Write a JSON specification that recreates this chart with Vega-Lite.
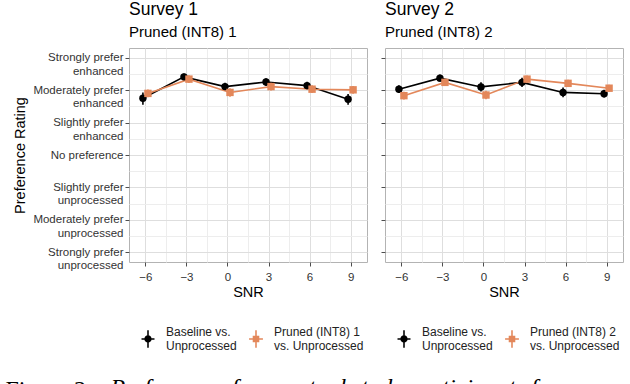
{
  "$schema": "https://vega.github.io/schema/vega-lite/v6.json",
  "background": "white",
  "padding": {"left": 5, "top": 0, "right": 5, "bottom": 5},
  "datasets": {
    "s1": [
      {"snr": -6, "series": "Baseline", "mean": 1.75, "lo": 1.55, "hi": 1.93},
      {"snr": -3, "series": "Baseline", "mean": 2.41, "lo": 2.31, "hi": 2.51},
      {"snr": 0, "series": "Baseline", "mean": 2.11, "lo": 1.99, "hi": 2.23},
      {"snr": 3, "series": "Baseline", "mean": 2.25, "lo": 2.13, "hi": 2.37},
      {"snr": 6, "series": "Baseline", "mean": 2.14, "lo": 2.02, "hi": 2.26},
      {"snr": 9, "series": "Baseline", "mean": 1.72, "lo": 1.55, "hi": 1.88},
      {"snr": -6, "series": "Pruned", "mean": 1.9, "lo": 1.78, "hi": 2.02},
      {"snr": -3, "series": "Pruned", "mean": 2.34, "lo": 2.22, "hi": 2.46},
      {"snr": 0, "series": "Pruned", "mean": 1.93, "lo": 1.8, "hi": 2.06},
      {"snr": 3, "series": "Pruned", "mean": 2.11, "lo": 1.99, "hi": 2.23},
      {"snr": 6, "series": "Pruned", "mean": 2.03, "lo": 1.91, "hi": 2.15},
      {"snr": 9, "series": "Pruned", "mean": 2.01, "lo": 1.89, "hi": 2.13}
    ],
    "s2": [
      {"snr": -6, "series": "Baseline", "mean": 2.03, "lo": 1.91, "hi": 2.15},
      {"snr": -3, "series": "Baseline", "mean": 2.37, "lo": 2.26, "hi": 2.48},
      {"snr": 0, "series": "Baseline", "mean": 2.1, "lo": 1.96, "hi": 2.24},
      {"snr": 3, "series": "Baseline", "mean": 2.24, "lo": 2.1, "hi": 2.38},
      {"snr": 6, "series": "Baseline", "mean": 1.93, "lo": 1.78, "hi": 2.08},
      {"snr": 9, "series": "Baseline", "mean": 1.89, "lo": 1.77, "hi": 2.01},
      {"snr": -6, "series": "Pruned", "mean": 1.83, "lo": 1.71, "hi": 1.95},
      {"snr": -3, "series": "Pruned", "mean": 2.24, "lo": 2.13, "hi": 2.35},
      {"snr": 0, "series": "Pruned", "mean": 1.85, "lo": 1.72, "hi": 1.98},
      {"snr": 3, "series": "Pruned", "mean": 2.34, "lo": 2.23, "hi": 2.45},
      {"snr": 6, "series": "Pruned", "mean": 2.21, "lo": 2.1, "hi": 2.32},
      {"snr": 9, "series": "Pruned", "mean": 2.06, "lo": 1.95, "hi": 2.17}
    ]
  },
  "title": {
    "text": "Preference of perceptual study participants for en",
    "orient": "bottom",
    "anchor": "start",
    "frame": "bounds",
    "font": "Liberation Serif",
    "fontSize": 24,
    "fontStyle": "italic",
    "fontWeight": "normal",
    "color": "black",
    "offset": 0,
    "dx": 105,
    "dy": -26
  },
  "vconcat": [
    {
      "title": {
        "text": "Figure 2:",
        "orient": "bottom",
        "anchor": "start",
        "frame": "bounds",
        "font": "Liberation Serif",
        "fontSize": 24,
        "fontStyle": "normal",
        "fontWeight": "normal",
        "color": "black",
        "offset": 15,
        "dx": -7
      },
      "spacing": 5,
      "resolve": {"scale": {"color": "independent", "shape": "independent"}, "legend": {"color": "independent", "shape": "independent"}},
      "hconcat": [
        {
          "width": 238,
          "height": 214,
          "title": {"text": "Survey 1", "subtitle": "Pruned (INT8) 1"},
          "data": {"name": "s1"},
          "encoding": {
            "x": {"field": "snr", "type": "quantitative", "scale": {"domain": [-7.2, 10.2], "nice": false, "zero": false},
              "axis": {"title": "SNR", "values": [-6, -4.5, -3, -1.5, 0, 1.5, 3, 4.5, 6, 7.5, 9],
                "labelExpr": "datum.value % 3 == 0 ? datum.label : ''",
                "tickColor": {"condition": {"test": "datum.value % 3 == 0", "value": "#4d4d4d"}, "value": "transparent"},
                "gridColor": {"condition": {"test": "datum.value % 3 == 0", "value": "#dedede"}, "value": "#ededed"}}},
            "y": {"field": "mean", "type": "quantitative", "scale": {"domain": [-3.3, 3.3], "nice": false, "zero": false},
              "axis": {"title": "Preference Rating", "values": [-3, -2.5, -2, -1.5, -1, -0.5, 0, 0.5, 1, 1.5, 2, 2.5, 3],
                "labelExpr": "datum.value == 3 ? ['Strongly prefer','enhanced'] : datum.value == 2 ? ['Moderately prefer','enhanced'] : datum.value == 1 ? ['Slightly prefer','enhanced'] : datum.value == 0 ? 'No preference' : datum.value == -1 ? ['Slightly prefer','unprocessed'] : datum.value == -2 ? ['Moderately prefer','unprocessed'] : datum.value == -3 ? ['Strongly prefer','unprocessed'] : ''",
                "tickColor": {"condition": {"test": "datum.value % 1 == 0", "value": "#4d4d4d"}, "value": "transparent"},
                "gridColor": {"condition": {"test": "datum.value % 1 == 0", "value": "#dedede"}, "value": "#ededed"}}},
            "color": {"field": "series", "type": "nominal", "scale": {"domain": ["Baseline", "Pruned"], "range": ["#000000", "#E3875A"]},
              "legend": {"title": null, "orient": "bottom", "direction": "horizontal",
                "labelExpr": "datum.label == 'Baseline' ? ['Baseline vs.','Unprocessed'] : ['Pruned (INT8) 1','vs. Unprocessed']",
                "encode": {"labels": {"update": {"dy": {"value": -7}}}, "symbols": {"update": {"shape": {"signal": "datum.value == 'Baseline' ? 'M-0.09,-1H0.09V1H-0.09Z M-0.75,-0.09H0.75V0.09H-0.75Z M0.42,0A0.42,0.42 0 1,1 -0.42,0A0.42,0.42 0 1,1 0.42,0Z' : 'M-0.09,-1H0.09V1H-0.09Z M-0.8,-0.09H0.8V0.09H-0.8Z M-0.38,-0.38H0.38V0.38H-0.38Z'"}, "opacity": {"value": 1}}}}}}
          },
          "layer": [
            {"transform": [{"filter": "datum.series == 'Baseline'"}], "mark": {"type": "rule", "strokeWidth": 1.6, "xOffset": -2.5}, "encoding": {"y": {"field": "lo", "type": "quantitative"}, "y2": {"field": "hi"}}},
            {"transform": [{"filter": "datum.series == 'Baseline'"}], "mark": {"type": "line", "strokeWidth": 1.6, "xOffset": -2.5}},
            {"transform": [{"filter": "datum.series == 'Pruned'"}], "mark": {"type": "rule", "strokeWidth": 1.6, "xOffset": 2.5}, "encoding": {"y": {"field": "lo", "type": "quantitative"}, "y2": {"field": "hi"}}},
            {"transform": [{"filter": "datum.series == 'Pruned'"}], "mark": {"type": "line", "strokeWidth": 1.6, "xOffset": 2.5}},
            {"transform": [{"filter": "datum.series == 'Baseline'"}], "mark": {"type": "point", "filled": true, "opacity": 1, "size": 55, "shape": "circle", "xOffset": -2.5}},
            {"transform": [{"filter": "datum.series == 'Pruned'"}], "mark": {"type": "point", "filled": true, "opacity": 1, "size": 55, "shape": "square", "xOffset": 2.5}}
          ]
        },
        {
          "width": 238,
          "height": 214,
          "title": {"text": "Survey 2", "subtitle": "Pruned (INT8) 2"},
          "data": {"name": "s2"},
          "encoding": {
            "x": {"field": "snr", "type": "quantitative", "scale": {"domain": [-7.2, 10.2], "nice": false, "zero": false},
              "axis": {"title": "SNR", "values": [-6, -4.5, -3, -1.5, 0, 1.5, 3, 4.5, 6, 7.5, 9],
                "labelExpr": "datum.value % 3 == 0 ? datum.label : ''",
                "tickColor": {"condition": {"test": "datum.value % 3 == 0", "value": "#4d4d4d"}, "value": "transparent"},
                "gridColor": {"condition": {"test": "datum.value % 3 == 0", "value": "#dedede"}, "value": "#ededed"}}},
            "y": {"field": "mean", "type": "quantitative", "scale": {"domain": [-3.3, 3.3], "nice": false, "zero": false},
              "axis": {"title": null, "values": [-3, -2.5, -2, -1.5, -1, -0.5, 0, 0.5, 1, 1.5, 2, 2.5, 3],
                "labels": false,
                "tickColor": {"condition": {"test": "datum.value % 1 == 0", "value": "#4d4d4d"}, "value": "transparent"},
                "gridColor": {"condition": {"test": "datum.value % 1 == 0", "value": "#dedede"}, "value": "#ededed"}}},
            "color": {"field": "series", "type": "nominal", "scale": {"domain": ["Baseline", "Pruned"], "range": ["#000000", "#E3875A"]},
              "legend": {"title": null, "orient": "bottom", "direction": "horizontal",
                "labelExpr": "datum.label == 'Baseline' ? ['Baseline vs.','Unprocessed'] : ['Pruned (INT8) 2','vs. Unprocessed']",
                "encode": {"labels": {"update": {"dy": {"value": -7}}}, "symbols": {"update": {"shape": {"signal": "datum.value == 'Baseline' ? 'M-0.09,-1H0.09V1H-0.09Z M-0.75,-0.09H0.75V0.09H-0.75Z M0.42,0A0.42,0.42 0 1,1 -0.42,0A0.42,0.42 0 1,1 0.42,0Z' : 'M-0.09,-1H0.09V1H-0.09Z M-0.8,-0.09H0.8V0.09H-0.8Z M-0.38,-0.38H0.38V0.38H-0.38Z'"}, "opacity": {"value": 1}}}}}}
          },
          "layer": [
            {"transform": [{"filter": "datum.series == 'Baseline'"}], "mark": {"type": "rule", "strokeWidth": 1.6, "xOffset": -2.5}, "encoding": {"y": {"field": "lo", "type": "quantitative"}, "y2": {"field": "hi"}}},
            {"transform": [{"filter": "datum.series == 'Baseline'"}], "mark": {"type": "line", "strokeWidth": 1.6, "xOffset": -2.5}},
            {"transform": [{"filter": "datum.series == 'Pruned'"}], "mark": {"type": "rule", "strokeWidth": 1.6, "xOffset": 2.5}, "encoding": {"y": {"field": "lo", "type": "quantitative"}, "y2": {"field": "hi"}}},
            {"transform": [{"filter": "datum.series == 'Pruned'"}], "mark": {"type": "line", "strokeWidth": 1.6, "xOffset": 2.5}},
            {"transform": [{"filter": "datum.series == 'Baseline'"}], "mark": {"type": "point", "filled": true, "opacity": 1, "size": 55, "shape": "circle", "xOffset": -2.5}},
            {"transform": [{"filter": "datum.series == 'Pruned'"}], "mark": {"type": "point", "filled": true, "opacity": 1, "size": 55, "shape": "square", "xOffset": 2.5}}
          ]
        }
      ]
    }
  ],
  "config": {
    "font": "Liberation Sans",
    "view": {"stroke": "#b3b3b3", "strokeWidth": 1},
    "title": {"anchor": "start", "frame": "group", "fontSize": 17.5, "fontWeight": "normal", "color": "#000000", "subtitleFontSize": 15, "subtitleColor": "#000000", "subtitlePadding": 7, "offset": 8, "font": "Liberation Sans", "subtitleFont": "Liberation Sans"},
    "axis": {"domain": false, "labelFontSize": 11.5, "labelColor": "#333333", "titleFontSize": 14.5, "titleFontWeight": "normal", "titleColor": "#000000", "tickSize": 4, "labelPadding": 2, "gridWidth": 1},
    "axisX": {"titlePadding": 3, "labelPadding": 5},
    "axisY": {"titlePadding": 5, "labelLineHeight": 13.5},
    "legend": {"labelFontSize": 12, "labelColor": "#222222", "columnPadding": 10, "symbolSize": 300, "symbolStrokeWidth": 0, "offset": 21, "padding": 10, "labelOffset": 9, "labelLimit": 200}
  }
}
